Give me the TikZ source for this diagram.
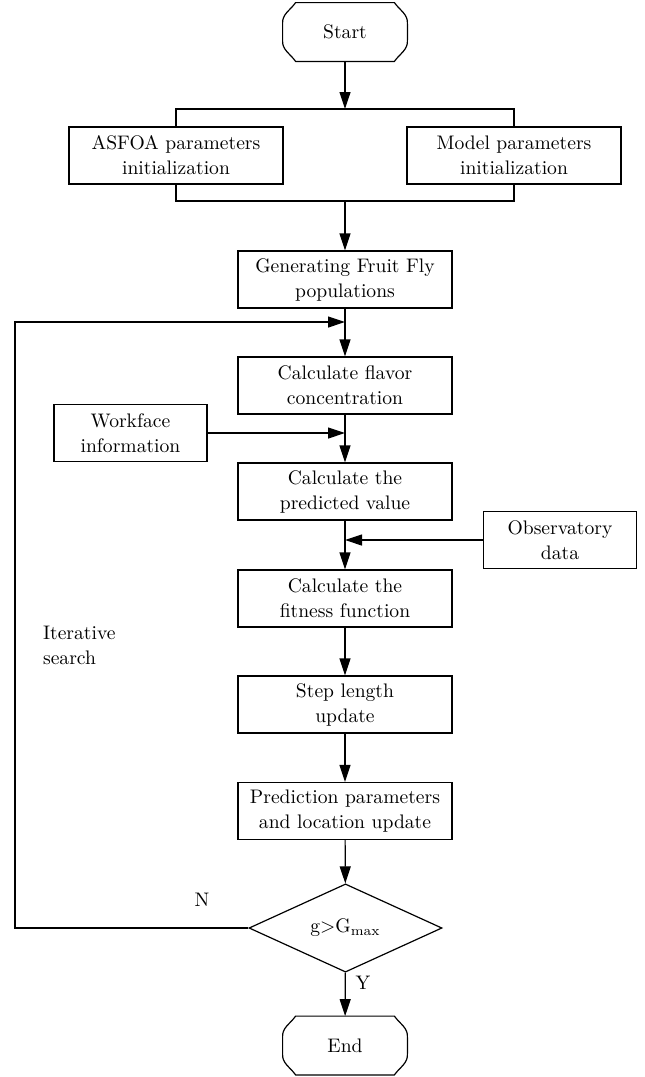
\documentclass[tikz,border=0pt]{standalone}
\usetikzlibrary{arrows.meta, shapes.geometric}
\tikzset{
  procbox/.style={draw, line width=0.6pt, align=center, minimum width=107pt, minimum height=28.5pt, inner sep=2pt},
  sidebox/.style={procbox, minimum width=76.5pt},
  terminal/.style={minimum width=62pt, minimum height=29pt, inner sep=0pt},
  decision/.style={draw, line width=0.6pt, diamond, minimum width=96.5pt, minimum height=38.5pt, inner sep=0pt},
  flow/.style={line width=0.6pt, -{Triangle[length=8.5pt,width=5.5pt]}},
  link/.style={line width=0.6pt}
}

\begin{document}
\begin{tikzpicture}[x=0.5pt, y=-0.5pt, font=\fontsize{9.8}{12.5}\selectfont]
    \useasboundingbox (0,0) rectangle (644,1077);

    % Main column
    \node[terminal] (start) at (345,32) {Start};
    \node[procbox] (asfoa) at (176,155.5) {ASFOA parameters\\initialization};
    \node[procbox] (model) at (514,155.5) {Model parameters\\initialization};
    \node[procbox] (gen) at (345,279.5) {Generating Fruit Fly\\populations};
    \node[procbox] (flavor) at (345,385.5) {Calculate flavor\\concentration};
    \node[procbox] (predicted) at (345,491.5) {Calculate the\\predicted value};
    \node[procbox] (fitness) at (345,598.5) {Calculate the\\fitness function};
    \node[procbox] (steplen) at (345,704.5) {Step length\\update};
    \node[procbox] (predloc) at (345,811) {Prediction parameters\\and location update};
    \node[decision] (check) at (345.5,928) {g>G\textsubscript{max}};
    \node[terminal] (finish) at (345,1045.5) {End};

    % Outline of the two terminals
    \foreach \t in {start,finish}
        \draw[link] ([xshift=6.5pt]\t.north west) -- ([xshift=-6.5pt]\t.north east)
            to[out=-55,in=85] ([yshift=4pt]\t.east) -- ([yshift=-4pt]\t.east)
            to[out=-85,in=55] ([xshift=-6.5pt]\t.south east)
            -- ([xshift=6.5pt]\t.south west)
            to[out=125,in=-95] ([yshift=-4pt]\t.west) -- ([yshift=4pt]\t.west)
            to[out=95,in=-125] cycle;

    % Side inputs
    \node[sidebox] (workface) at (130.5,433) {Workface\\information};
    \node[sidebox] (observ) at (560,540) {Observatory\\data};

    % Labels
    \node (nlabel) at (202,900) {N};
    \node (ylabel) at (363,983) {Y};
    \node[align=left, anchor=west] (iterlabel) at (36,645) {Iterative\\search};

    % Junction points
    \coordinate (splitT) at (345,109);
    \coordinate (joinB) at (345,201);
    \coordinate (loopIn) at (345,322);
    \coordinate (loopL) at (15,322);
    \coordinate (wfIn) at (345,433);
    \coordinate (obsIn) at (345,540);

    % Split and join of the two initializations
    \draw[flow] (start) -- (splitT);
    \draw[link] (asfoa.north) |- (splitT) -| (model.north);
    \draw[link] (asfoa.south) |- (joinB) -| (model.south);
    \draw[flow] (joinB) -- (gen);

    % Main flow
    \draw[flow] (gen) -- (flavor);
    \draw[flow] (flavor) -- (predicted);
    \draw[flow] (predicted) -- (fitness);
    \draw[flow] (fitness) -- (steplen);
    \draw[flow] (steplen) -- (predloc);
    \draw[flow] (predloc) -- (check);
    \draw[flow] (check) -- (finish);

    % Inputs and iteration loop
    \draw[flow] (workface) -- (wfIn);
    \draw[flow] (observ) -- (obsIn);
    \draw[flow] (check.west) -| (loopL) -- (loopIn);

\end{tikzpicture}
\end{document}
